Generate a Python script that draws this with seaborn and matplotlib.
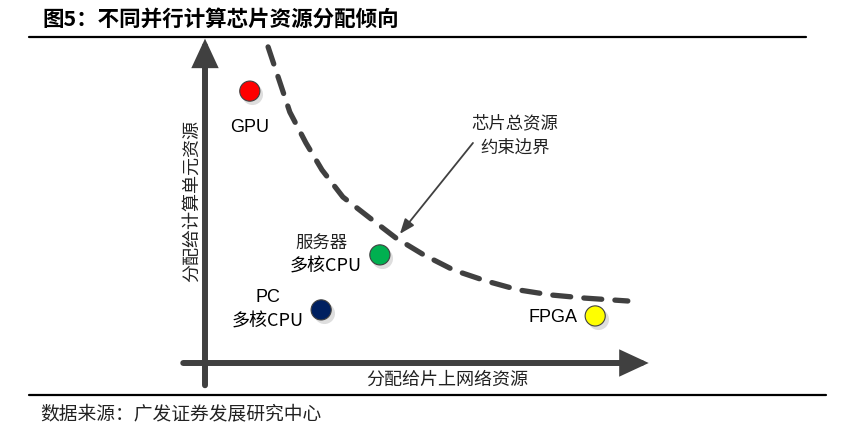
import matplotlib
matplotlib.use("Agg")
import matplotlib.pyplot as plt
import seaborn as sns
import pandas as pd
from matplotlib.lines import Line2D

sns.set_theme(style="white")
plt.rcParams['font.family'] = ['Noto Sans CJK SC', 'DejaVu Sans']

# ---------------- data (conceptual resource space, 0..10) ----------------
chip_names = ["GPU", "服务器\n多核CPU", "PC\n多核CPU", "FPGA"]
network_res = [1.03, 4.02, 2.67, 8.97]      # x: 分配给片上网络资源
compute_res = [8.55, 3.40, 1.67, 1.48]      # y: 分配给计算单元资源
chip_colors = ["#FF0000", "#00B050", "#002060", "#FFFF00"]

boundary_x = [1.45, 1.95, 2.32, 2.69, 3.17, 3.79, 4.39, 5.03, 5.72, 6.46, 7.20, 7.95, 8.74, 9.72]
boundary_y = [9.94, 7.89, 6.92, 6.07, 5.22, 4.56, 3.93, 3.40, 2.92, 2.58, 2.30, 2.14, 2.04, 1.95]

title = "图5：不同并行计算芯片资源分配倾向"
x_label = "分配给片上网络资源"
y_label = "分配给计算单元资源"
boundary_label = "芯片总资源\n约束边界"
source = "数据来源：广发证券发展研究中心"

# ---------------- figure ----------------
W, H = 846, 428
fig = plt.figure(figsize=(W / 100, H / 100), dpi=100)
fig.patch.set_facecolor("white")

def fx(px):
    return px / W
def fy(py):
    return 1 - py / H

# axes mapping: x 0..10 -> px 205..640, y 0..10 -> py 363..45
ax_left, ax_right = 205 - 0.5 * 43.5, 205 + 10.9 * 43.5
ax_bottom, ax_top = 363 + 0.7 * 31.8, 363 - 10.6 * 31.8
ax = fig.add_axes([fx(ax_left), fy(ax_bottom), fx(ax_right) - fx(ax_left), fy(ax_top) - fy(ax_bottom)])
ax.set_xlim(-0.5, 10.9)
ax.set_ylim(-0.7, 10.6)
ax.axis("off")

axis_color = "#404040"
# axes arrows
ax.annotate("", xy=(0, 10.2), xytext=(0, -0.7),
            arrowprops=dict(arrowstyle="-|>,head_length=1.4,head_width=0.65", mutation_scale=10,
                            lw=4.3, color=axis_color, shrinkA=0, shrinkB=0, joinstyle="miter"))
ax.annotate("", xy=(10.2, 0), xytext=(-0.5, 0),
            arrowprops=dict(arrowstyle="-|>,head_length=1.4,head_width=0.65", mutation_scale=10,
                            lw=4.3, color=axis_color, shrinkA=0, shrinkB=0, joinstyle="miter"))

# dashed boundary curve
df_b = pd.DataFrame({"x": boundary_x, "y": boundary_y})
sns.lineplot(data=df_b, x="x", y="y", ax=ax, color=axis_color, lw=3.8,
             linestyle=(0, (3.4, 2.5)), sort=False, legend=False)
ax.lines[-1].set_dash_capstyle("round")

# points
df_p = pd.DataFrame({"x": network_res, "y": compute_res, "name": chip_names})
ax.scatter([v + 0.06 for v in network_res], [v - 0.09 for v in compute_res], s=230,
           color="#c8c8c8", alpha=0.6, zorder=3, linewidths=0)
sns.scatterplot(data=df_p, x="x", y="y", hue="name", palette=dict(zip(chip_names, chip_colors)),
                s=210, edgecolor="#404040", linewidth=0.8, ax=ax, legend=False, zorder=4)

# point labels
latin = ["Liberation Sans", "Noto Sans CJK SC"]
ax.text(network_res[0], compute_res[0] - 1.13, chip_names[0], ha="center", va="center",
        fontsize=13, family=latin, color="black")
l1, l2 = chip_names[1].split("\n")
ax.text(network_res[1] - 1.35, compute_res[1] + 0.38, l1, ha="center", va="center",
        fontsize=12.5, color="#222222")
ax.text(network_res[1] - 1.25, compute_res[1] - 0.38, l2, ha="center", va="center",
        fontsize=13, color="black")
l1, l2 = chip_names[2].split("\n")
ax.text(network_res[2] - 1.22, compute_res[2] + 0.38, l1, ha="center", va="center",
        fontsize=13, family=latin, color="black")
ax.text(network_res[2] - 1.24, compute_res[2] - 0.38, l2, ha="center", va="center",
        fontsize=13, color="black")
ax.text(network_res[3] - 0.40, compute_res[3] - 0.06, chip_names[3], ha="right", va="center",
        fontsize=13, family=latin, color="black")

# boundary annotation
ax.text(7.13, 7.15, boundary_label, ha="center", va="center",
        fontsize=12.5, color="#222222", linespacing=1.45)
ax.annotate("", xy=(4.48, 4.06), xytext=(6.16, 6.92),
            arrowprops=dict(arrowstyle="-|>,head_length=0.9,head_width=0.35", mutation_scale=10,
                            lw=1.3, color=axis_color, shrinkA=0, shrinkB=0))

# axis labels
ax.text(5.56, -0.53, x_label, ha="center", va="center", fontsize=13, color="#222222")
ax.text(-0.30, 5.1, y_label, ha="center", va="center", fontsize=13, rotation=90, color="#222222")

# title, rules, source
fig.text(fx(42), fy(19), title, ha="left", va="center", fontsize=15.5, fontweight="bold", color="black")
fig.add_artist(Line2D([fx(29), fx(806)], [fy(37), fy(37)], color="black", lw=1.6))
fig.add_artist(Line2D([fx(29), fx(826)], [fy(395), fy(395)], color="black", lw=1.6))
fig.text(fx(40), fy(414), source, ha="left", va="center", fontsize=13.5, color="#222222")

fig.savefig("out.png", dpi=100, facecolor="white")
